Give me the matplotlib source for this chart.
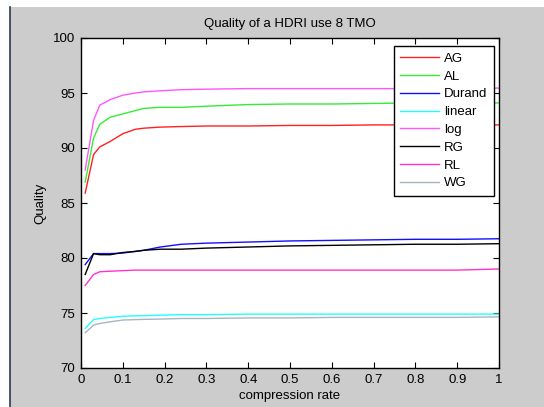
import matplotlib
matplotlib.use("Agg")
import matplotlib.pyplot as plt
from matplotlib.patches import Rectangle
from matplotlib.lines import Line2D

plt.rcParams['font.family'] = ['Liberation Sans', 'DejaVu Sans']

x = [0.01, 0.03, 0.045, 0.07, 0.1, 0.13, 0.15, 0.19, 0.24, 0.3, 0.4, 0.5, 0.6, 0.7, 0.8, 0.9, 1.0]

AG     = [85.9, 89.4, 90.1, 90.6, 91.3, 91.7, 91.8, 91.9, 91.95, 92.0, 92.0, 92.05, 92.05, 92.1, 92.1, 92.1, 92.1]
AL     = [86.9, 90.9, 92.15, 92.8, 93.1, 93.4, 93.6, 93.7, 93.7, 93.8, 93.95, 94.0, 94.0, 94.05, 94.1, 94.1, 94.1]
Durand = [79.4, 80.4, 80.4, 80.4, 80.45, 80.6, 80.7, 81.0, 81.25, 81.35, 81.45, 81.55, 81.6, 81.65, 81.7, 81.7, 81.75]
linear = [73.6, 74.4, 74.5, 74.6, 74.7, 74.75, 74.75, 74.8, 74.85, 74.85, 74.9, 74.9, 74.9, 74.9, 74.9, 74.9, 74.9]
log    = [88.0, 92.5, 93.9, 94.4, 94.8, 95.0, 95.1, 95.2, 95.3, 95.35, 95.4, 95.4, 95.4, 95.4, 95.4, 95.4, 95.45]
RG     = [78.5, 80.4, 80.3, 80.3, 80.5, 80.6, 80.7, 80.8, 80.8, 80.9, 81.0, 81.1, 81.15, 81.2, 81.25, 81.25, 81.3]
RL     = [77.5, 78.5, 78.75, 78.8, 78.85, 78.9, 78.9, 78.9, 78.9, 78.9, 78.9, 78.9, 78.9, 78.9, 78.9, 78.9, 79.0]
WG     = [73.2, 73.9, 74.05, 74.2, 74.36, 74.4, 74.42, 74.45, 74.5, 74.5, 74.55, 74.55, 74.6, 74.6, 74.6, 74.6, 74.65]

names = ['AG', 'AL', 'Durand', 'linear', 'log', 'RG', 'RL', 'WG']
series = [AG, AL, Durand, linear, log, RG, RL, WG]
colors = ['#ff2020', '#33ee33', '#1010ff', '#22ffff', '#ff55ff', '#000000', '#ff33cc', '#a8b4c4']

fig = plt.figure(figsize=(5.44, 4.07), dpi=100, facecolor='white')
fig.patches.append(Rectangle((9.5 / 544, 0), 1, 400 / 407, transform=fig.transFigure,
                             facecolor='#cccccc', edgecolor='none', zorder=-10))
fig.lines.append(Line2D([9.5 / 544, 9.5 / 544], [0, 400 / 407], transform=fig.transFigure,
                        color='#2a3a4a', linewidth=1.2))

ax = fig.add_axes([81 / 544, 39 / 407, 418 / 544, 330 / 407])
ax.set_facecolor('white')
for name, s, c in zip(names, series, colors):
    ax.plot(x, s, color=c, linewidth=1.0, label=name)

ax.set_xlim(0, 1)
ax.set_ylim(70, 100)
ax.set_xticks([0, 0.1, 0.2, 0.3, 0.4, 0.5, 0.6, 0.7, 0.8, 0.9, 1])
ax.set_xticklabels(['0', '0.1', '0.2', '0.3', '0.4', '0.5', '0.6', '0.7', '0.8', '0.9', '1'])
ax.set_yticks([70, 75, 80, 85, 90, 95, 100])
ax.tick_params(direction='in', top=True, right=True, length=4, labelsize=9.5, colors='black', pad=4)
for sp in ax.spines.values():
    sp.set_linewidth(1.0)

ax.set_title('Quality of a HDRI use 8 TMO', fontsize=9.5, pad=8)
ax.set_xlabel('compression rate', fontsize=9.5, labelpad=3)
ax.set_ylabel('Quality', fontsize=9.5, labelpad=5)

leg = ax.legend(loc='upper right', bbox_to_anchor=((494 - 81) / 418, (368 - 46) / 330),
                frameon=True, fancybox=False, edgecolor='black', framealpha=1,
                fontsize=9.5, handlelength=2.9, handletextpad=0.4, labelspacing=0.42,
                borderpad=0.5, borderaxespad=0)
leg.get_frame().set_linewidth(1.0)

fig.savefig('out.png', dpi=100, facecolor=fig.get_facecolor())
